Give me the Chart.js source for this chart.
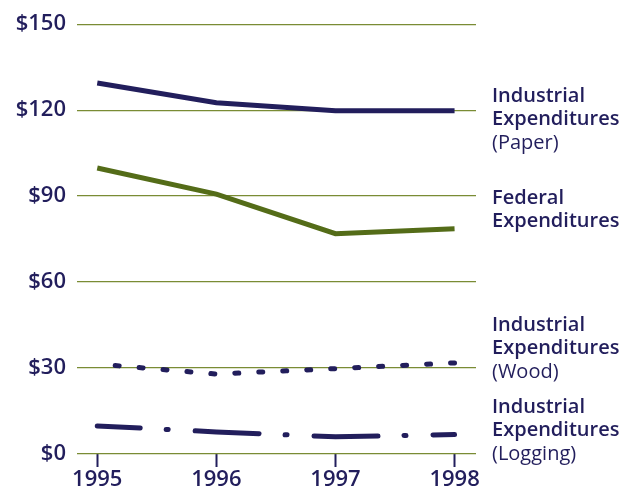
<!DOCTYPE html>
<html>
<head>
<meta charset="utf-8">
<script src="https://cdn.jsdelivr.net/npm/chart.js@4"></script>
<style>
  html, body { margin: 0; padding: 0; background: #fff; overflow: hidden; }
  canvas { display: block; }
</style>
</head>
<body>
<canvas id="expChart" width="625" height="491"></canvas>
<script>
const years = [1995, 1996, 1997, 1998];
const paper = [129.5, 122.6, 119.8, 119.8];
const federal = [99.8, 90.7, 76.9, 78.6];
const wood = [31.4, 27.9, 29.8, 31.8];
const logging = [9.8, 7.7, 6.0, 6.8];
const yTicks = [0, 30, 60, 90, 120, 150];

const navy = 'rgb(34, 30, 92)';
const green = 'rgb(84, 108, 24)';
const gridGreen = 'rgb(122, 140, 52)';

// right-hand series labels: [bold lines, normal line, top y in px]
const sideLabels = [
  [['Industrial', 'Expenditures'], '(Paper)', 96],
  [['Federal', 'Expenditures'], '', 198],
  [['Industrial', 'Expenditures'], '(Wood)', 325],
  [['Industrial', 'Expenditures'], '(Logging)', 407]
];

const labelPlugin = {
  id: 'sideLabels',
  afterDraw(chart) {
    const ctx = chart.ctx;
    ctx.save();
    ctx.fillStyle = navy;
    ctx.textBaseline = 'middle';
    ctx.textAlign = 'left';
    sideLabels.forEach(l => {
      let y = l[2];
      ctx.font = '600 20px "Open Sans"';
      l[0].forEach(t => { ctx.fillText(t, 492, y); y += 23.5; });
      if (l[1]) {
        ctx.font = '400 20px "Open Sans"';
        ctx.fillText(l[1], 492, y);
      }
    });
    ctx.restore();
  }
};

const toXY = arr => arr.map((v, i) => ({ x: years[i], y: v }));

new Chart(document.getElementById('expChart'), {
  type: 'line',
  data: {
    datasets: [
      { label: 'Industrial Expenditures (Paper)', data: toXY(paper), borderColor: navy, borderWidth: 5 },
      { label: 'Federal Expenditures', data: toXY(federal), borderColor: green, borderWidth: 5 },
      { label: 'Industrial Expenditures (Wood)', data: toXY(wood), borderColor: navy, borderWidth: 5,
        borderDash: [4, 20], borderDashOffset: 6, borderCapStyle: 'round' },
      { label: 'Industrial Expenditures (Logging)', data: toXY(logging), borderColor: navy, borderWidth: 5,
        borderDash: [64, 26, 2, 27], borderDashOffset: 21, borderCapStyle: 'round' }
    ]
  },
  options: {
    responsive: false,
    animation: false,
    layout: { padding: { top: 21, right: 149, left: 0, bottom: 0 } },
    elements: { point: { radius: 0 }, line: { tension: 0 } },
    plugins: { legend: { display: false }, tooltip: { enabled: false } },
    scales: {
      x: {
        type: 'linear',
        min: 1994.83,
        max: 1998.18,
        afterBuildTicks: s => { s.ticks = years.map(v => ({ value: v })); },
        afterFit: s => { s.height = 37; },
        border: { display: false },
        grid: { drawOnChartArea: false, tickLength: 13, tickWidth: 2, tickColor: navy },
        ticks: { color: navy, padding: 0, font: { family: 'Open Sans', size: 22, weight: 600 },
          callback: v => String(v) }
      },
      y: {
        min: 0,
        max: 150,
        afterBuildTicks: s => { s.ticks = yTicks.map(v => ({ value: v })); },
        afterFit: s => { s.width = 77; },
        border: { display: false },
        grid: { color: gridGreen, lineWidth: 1.3, drawTicks: false },
        ticks: { color: navy, padding: 11, font: { family: 'Open Sans', size: 22, weight: 600 },
          callback: v => '$' + v }
      }
    }
  },
  plugins: [labelPlugin]
});
</script>
</body>
</html>
